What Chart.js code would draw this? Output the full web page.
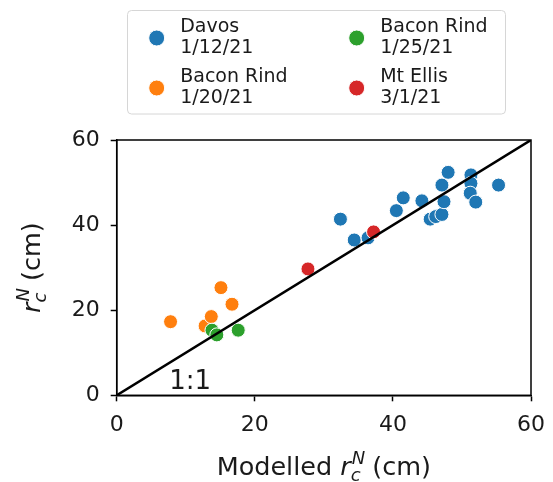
<!DOCTYPE html>
<html>
<head>
<meta charset="utf-8">
<script src="https://cdn.jsdelivr.net/npm/chart.js@4/dist/chart.umd.min.js"></script>
<style>
html,body{margin:0;padding:0;background:#fff;}
#wrap{position:relative;width:553px;height:482px;}
canvas{display:block;}
</style>
</head>
<body>
<div id="wrap"><canvas id="c" width="553" height="482"></canvas></div>
<script>
// ---- data ----
const seriesLabels = [["Davos","1/12/21"],["Bacon Rind","1/20/21"],["Bacon Rind","1/25/21"],["Mt Ellis","3/1/21"]];
const seriesColors = ["#1f77b4","#ff7f0e","#2ca02c","#d62728"];

const davosX = [32.4,34.4,36.4,40.5,41.5,44.2,45.4,46.2,47.1,47.4,47.1,48.0,51.3,51.3,51.2,52.0,55.3];
const davosY = [41.4,36.5,37.0,43.4,46.4,45.7,41.4,42.0,42.5,45.5,49.4,52.4,51.8,49.8,47.5,45.4,49.4];

const br20X = [15.1,16.7,7.8,12.8,13.7];
const br20Y = [25.3,21.4,17.3,16.3,18.5];

const br25X = [13.8,14.5,17.6];
const br25Y = [15.3,14.2,15.3];

const mtEllisX = [27.7,37.2];
const mtEllisY = [29.7,38.4];

const oneToOneX = [0,60];
const oneToOneY = [0,60];
const oneToOneLabel = "1:1";
const oneToOneLabelAt = {x:7.6, y:1.4};

const tickValues = [0,20,40,60];
const xTitlePrefix = "Modelled ";

function pts(xs, ys){ return xs.map((x,i)=>({x:x, y:ys[i]})); }

const FONT = "'DejaVu Sans', sans-serif";
const TXT = "#1a1a1a";

function drawRTitle(ctx, prefix, cx, cy, size){
  const small = Math.round(size*0.7);
  const fN = size + "px " + FONT;
  const fI = "italic " + size + "px " + FONT;
  const fS = "italic " + small + "px " + FONT;
  ctx.font = fN; const w1 = ctx.measureText(prefix).width;
  ctx.font = fI; const wr = ctx.measureText("r").width;
  ctx.font = fS; const wc = ctx.measureText("c").width; const wN = ctx.measureText("N").width;
  const wsub = Math.max(wc, wN);
  ctx.font = fN; const w3 = ctx.measureText(" (cm)").width;
  const total = w1 + wr + wsub + w3;
  let x = cx - total/2;
  ctx.fillStyle = TXT; ctx.textBaseline = "alphabetic"; ctx.textAlign = "left";
  ctx.font = fN; ctx.fillText(prefix, x, cy); x += w1;
  ctx.font = fI; ctx.fillText("r", x, cy); x += wr;
  ctx.font = fS; ctx.fillText("c", x, cy + size*0.22); ctx.fillText("N", x+1, cy - size*0.42); x += wsub;
  ctx.font = fN; ctx.fillText(" (cm)", x, cy);
}

const decorPlugin = {
  id: 'decor',
  afterDatasetsDraw(chart){
    const ctx = chart.ctx, a = chart.chartArea;
    const xs = chart.scales.x, ys = chart.scales.y;
    ctx.save();
    ctx.strokeStyle = "#000"; ctx.lineWidth = 1.5;
    ctx.strokeRect(a.left, a.top, a.right - a.left, a.bottom - a.top);
    ctx.fillStyle = TXT; ctx.font = "26px " + FONT; ctx.textAlign = "left"; ctx.textBaseline = "alphabetic";
    ctx.fillText(oneToOneLabel, xs.getPixelForValue(oneToOneLabelAt.x), ys.getPixelForValue(oneToOneLabelAt.y));
    ctx.restore();
  },
  afterDraw(chart){
    const ctx = chart.ctx, a = chart.chartArea;
    ctx.save();
    drawRTitle(ctx, xTitlePrefix, (a.left + a.right)/2, 475, 25.5);
    ctx.translate(40, (a.top + a.bottom)/2);
    ctx.rotate(-Math.PI/2);
    drawRTitle(ctx, "", 0, 0, 25.5);
    ctx.restore();
    // legend
    ctx.save();
    const bx = 127.5, by = 10.5, bw = 378, bh = 103.5, r = 4;
    ctx.beginPath();
    ctx.moveTo(bx+r, by); ctx.lineTo(bx+bw-r, by); ctx.quadraticCurveTo(bx+bw, by, bx+bw, by+r);
    ctx.lineTo(bx+bw, by+bh-r); ctx.quadraticCurveTo(bx+bw, by+bh, bx+bw-r, by+bh);
    ctx.lineTo(bx+r, by+bh); ctx.quadraticCurveTo(bx, by+bh, bx, by+bh-r);
    ctx.lineTo(bx, by+r); ctx.quadraticCurveTo(bx, by, bx+r, by);
    ctx.closePath();
    ctx.fillStyle = "rgba(255,255,255,0.85)"; ctx.fill();
    ctx.strokeStyle = "#d6d6d6"; ctx.lineWidth = 1; ctx.stroke();
    const colX = [156.7, 356.7];
    const rowY = [38, 88];
    chart.data.datasets.forEach((ds) => {
      if (ds.legendIndex === undefined) return;
      const i = ds.legendIndex;
      const col = Math.floor(i/2), row = i % 2;
      const mx = colX[col], my = rowY[row];
      ctx.beginPath(); ctx.arc(mx, my, 8, 0, Math.PI*2);
      ctx.fillStyle = ds.backgroundColor; ctx.fill();
      ctx.strokeStyle = "#fff"; ctx.lineWidth = 1; ctx.stroke();
      ctx.fillStyle = TXT; ctx.font = "19px " + FONT; ctx.textAlign = "left"; ctx.textBaseline = "alphabetic";
      const lines = seriesLabels[i];
      ctx.fillText(lines[0], mx + 23.5, my - 6.3);
      ctx.fillText(lines[1], mx + 23.5, my + 14.7);
    });
    ctx.restore();
  }
};

function makeAxis(pad, fit){
  return {
    type: 'linear', min: 0, max: 60,
    afterBuildTicks(scale){ scale.ticks = tickValues.map(v => ({value: v})); },
    ticks: { color: TXT, font: { family: FONT, size: 22 }, padding: pad, maxRotation: 0 },
    grid: { drawOnChartArea: false, drawTicks: true, tickLength: 6, tickColor: "#000", tickWidth: 1.5 },
    border: { display: true, color: "#000", width: 1.5 },
    title: { display: false },
    afterFit: fit
  };
}

new Chart(document.getElementById('c'), {
  type: 'scatter',
  data: {
    datasets: [
      { type: 'line', label: oneToOneLabel, data: pts(oneToOneX, oneToOneY), borderColor: "#000", borderWidth: 2.5,
        pointRadius: 0, fill: false, order: 0 },
      { label: seriesLabels[3].join(" "), legendIndex: 3, data: pts(mtEllisX, mtEllisY), backgroundColor: seriesColors[3], order: 1 },
      { label: seriesLabels[2].join(" "), legendIndex: 2, data: pts(br25X, br25Y), backgroundColor: seriesColors[2], order: 2 },
      { label: seriesLabels[1].join(" "), legendIndex: 1, data: pts(br20X, br20Y), backgroundColor: seriesColors[1], order: 3 },
      { label: seriesLabels[0].join(" "), legendIndex: 0, data: pts(davosX, davosY), backgroundColor: seriesColors[0], order: 4 }
    ].map(d => d.type === 'line' ? d : Object.assign(d, { pointRadius: 7, pointHoverRadius: 7, borderColor: "#fff", pointBorderColor: "#fff", borderWidth: 1 }))
  },
  options: {
    responsive: false, animation: false,
    layout: { padding: { top: 140, right: 22, left: 0, bottom: 0 } },
    plugins: { legend: { display: false }, tooltip: { enabled: false } },
    scales: {
      x: makeAxis(11, s => { s.height = 86.7; s.paddingLeft = 0; s.paddingRight = 0; }),
      y: makeAxis(11, s => { s.width = 116.7; s.paddingTop = 0; s.paddingBottom = 0; })
    }
  },
  plugins: [decorPlugin]
});
</script>
</body>
</html>
